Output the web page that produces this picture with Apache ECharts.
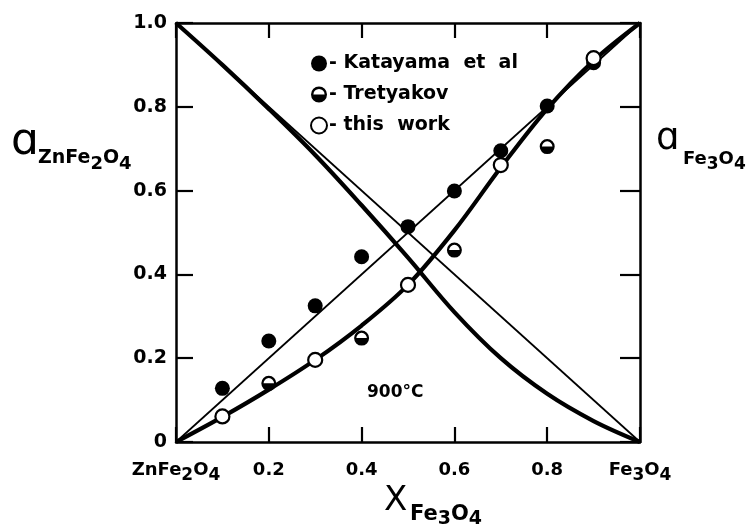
<!DOCTYPE html>
<html>
<head>
<meta charset="utf-8">
<script src="https://cdn.jsdelivr.net/npm/echarts@6/dist/echarts.min.js"></script>
<style>
html,body{margin:0;padding:0;background:#fff;}
#c{width:752px;height:530px;}
</style>
</head>
<body>
<div id="c"></div>
<script>
// ---- data ----
const xTickLabels = ['ZnFe₂O₄', '0.2', '0.4', '0.6', '0.8', 'Fe₃O₄'];
const yTickLabels = ['0', '0.2', '0.4', '0.6', '0.8', '1.0'];

const katayamaX = [0.1, 0.2, 0.3, 0.4, 0.5, 0.6, 0.7, 0.8, 0.9];
const katayamaA = [0.128, 0.241, 0.325, 0.442, 0.514, 0.599, 0.695, 0.802, 0.905];

const tretyakovX = [0.2, 0.4, 0.6, 0.8];
const tretyakovA = [0.140, 0.248, 0.458, 0.705];

const thisWorkX = [0.1, 0.3, 0.5, 0.7, 0.9];
const thisWorkA = [0.061, 0.196, 0.375, 0.661, 0.916];

const curveX = [0, 0.1, 0.2, 0.3, 0.4, 0.5, 0.6, 0.7, 0.8, 0.9, 1.0];
const aFe3O4Fit = [0, 0.060, 0.125, 0.196, 0.278, 0.375, 0.505, 0.655, 0.795, 0.910, 1.0];
const aZnFe2O4Fit = [1.0, 0.900, 0.795, 0.685, 0.565, 0.440, 0.310, 0.200, 0.115, 0.050, 0];

const idealX = [0, 1];
const idealFe3O4 = [0, 1];
const idealZnFe2O4 = [1, 0];

const seriesNames = ['Katayama et al', 'Tretyakov', 'this work'];
const tempLabel = '900°C';
const leftTitle = ['ɑ', 'ZnFe₂O₄'];
const rightTitle = ['ɑ', 'Fe₃O₄'];
const xTitle = ['X', 'Fe₃O₄'];

// ---- helpers ----
const zip = (xs, ys) => xs.map((x, i) => [x, ys[i]]);
const FONT = 'DejaVu Sans';
const SUBS = '₀₁₂₃₄₅₆₇₈₉';
// turn "ZnFe₂O₄" into rich-text tokens with lowered digits
function richChem(str, n, s) {
  let out = '';
  let buf = '';
  let mode = null;
  for (const ch of str) {
    const k = SUBS.indexOf(ch);
    const m = k >= 0 ? s : n;
    const c = k >= 0 ? String(k) : ch;
    if (mode !== m && buf) { out += '{' + mode + '|' + buf + '}'; buf = ''; }
    mode = m; buf += c;
  }
  if (buf) out += '{' + mode + '|' + buf + '}';
  return out;
}
const halfSymbol = 'path://M0,10A10,10 0 1,1 20,10A10,10 0 1,1 0,10ZM3,10L17,10A7,7 0 0,0 3,10Z';

const chart = echarts.init(document.getElementById('c'), null, {renderer: 'canvas'});

const axisLine = {show: true, onZero: false, lineStyle: {color: '#000', width: 2.5}};
const tickStyle = {color: '#000', width: 2.2};

const lineSeries = (data, width) => ({
  type: 'line', data: data, symbol: 'none', showSymbol: false, smooth: 0.35,
  lineStyle: {color: '#000', width: width}, silent: true, z: 2,
  xAxisIndex: 0, yAxisIndex: 0
});

const labRich = {
  n: {fontFamily: FONT, fontWeight: 'bold', fontSize: 18, lineHeight: 22, color: '#000'},
  s: {fontFamily: FONT, fontWeight: 'bold', fontSize: 17, lineHeight: 22, padding: [11, 0, 0, 0], color: '#000'}
};

const option = {
  animation: false,
  backgroundColor: '#fff',
  grid: {left: 176, right: 112, top: 23, bottom: 88, containLabel: false},
  xAxis: [
    {
      type: 'value', min: 0, max: 1, interval: 0.2, position: 'bottom',
      axisLine: axisLine,
      axisTick: {show: true, inside: true, length: 15, lineStyle: tickStyle},
      splitLine: {show: false},
      axisLabel: {
        show: true, margin: 17, color: '#000', fontFamily: FONT, fontWeight: 'bold', fontSize: 18,
        showMinLabel: true, showMaxLabel: true, hideOverlap: false,
        formatter: v => richChem(xTickLabels[Math.round(v / 0.2)], 'n', 's'),
        rich: labRich
      }
    },
    {
      type: 'value', min: 0, max: 1, interval: 0.2, position: 'top',
      axisLine: axisLine,
      axisTick: {show: true, inside: true, length: 15, lineStyle: tickStyle},
      splitLine: {show: false}, axisLabel: {show: false}
    }
  ],
  yAxis: [
    {
      type: 'value', min: 0, max: 1, interval: 0.2, position: 'left',
      axisLine: axisLine,
      axisTick: {show: true, inside: true, length: 17, lineStyle: tickStyle},
      splitLine: {show: false},
      axisLabel: {
        show: true, margin: 9, color: '#000', fontFamily: FONT, fontWeight: 'bold', fontSize: 19,
        showMinLabel: true, showMaxLabel: true,
        formatter: v => yTickLabels[Math.round(v / 0.2)]
      }
    },
    {
      type: 'value', min: 0, max: 1, interval: 0.2, position: 'right',
      axisLine: axisLine,
      axisTick: {show: true, inside: true, length: 20, lineStyle: tickStyle},
      splitLine: {show: false}, axisLabel: {show: false}
    }
  ],
  legend: {
    data: seriesNames,
    orient: 'vertical', left: 310, top: 54, padding: 0,
    itemWidth: 16, itemHeight: 16, itemGap: 12,
    formatter: name => '- ' + name.replace(/ /g, '  '),
    textStyle: {color: '#000', fontFamily: FONT, fontWeight: 'bold', fontSize: 19, padding: [0, 0, 0, -3]},
    selectedMode: false
  },
  series: [
    lineSeries(zip(idealX, idealFe3O4), 1.7),
    lineSeries(zip(idealX, idealZnFe2O4), 1.7),
    lineSeries(zip(curveX, aFe3O4Fit), 4.2),
    lineSeries(zip(curveX, aZnFe2O4Fit), 4.2),
    {
      name: seriesNames[0], type: 'scatter', data: zip(katayamaX, katayamaA),
      symbol: 'circle', symbolSize: 15, z: 5,
      itemStyle: {color: '#000', opacity: 1}
    },
    {
      name: seriesNames[1], type: 'scatter', data: zip(tretyakovX, tretyakovA),
      symbol: halfSymbol, symbolSize: 15, z: 5,
      itemStyle: {color: '#000', opacity: 1}
    },
    {
      name: seriesNames[2], type: 'scatter', data: zip(thisWorkX, thisWorkA),
      symbol: 'circle', symbolSize: 14, z: 6,
      itemStyle: {color: '#fff', borderColor: '#000', borderWidth: 2.2, opacity: 1}
    }
  ],
  graphic: [
    {type: 'text', left: 11, top: 121, style: {text: leftTitle[0], font: 'normal 44px "DejaVu Sans"', fill: '#000'}},
    {type: 'text', left: 38, top: 144, style: {
      text: richChem(leftTitle[1], 'n', 's'),
      rich: {
        n: {font: 'bold 19px "DejaVu Sans"', lineHeight: 22, fill: '#000'},
        s: {font: 'bold 18px "DejaVu Sans"', lineHeight: 22, padding: [11, 0, 0, 0], fill: '#000'}
      }
    }},
    {type: 'text', left: 656, top: 121, style: {text: rightTitle[0], font: 'normal 37px "DejaVu Sans"', fill: '#000'}},
    {type: 'text', left: 683, top: 146, style: {
      text: richChem(rightTitle[1], 'n', 's'),
      rich: {
        n: {font: 'bold 18px "DejaVu Sans"', lineHeight: 22, fill: '#000'},
        s: {font: 'bold 17px "DejaVu Sans"', lineHeight: 22, padding: [10, 0, 0, 0], fill: '#000'}
      }
    }},
    {type: 'text', left: 384, top: 484, style: {text: xTitle[0], font: 'normal 34px "DejaVu Sans"', fill: '#000'}},
    {type: 'text', left: 410, top: 500, style: {
      text: richChem(xTitle[1], 'n', 's'),
      rich: {
        n: {font: 'bold 21px "DejaVu Sans"', lineHeight: 24, fill: '#000'},
        s: {font: 'bold 19px "DejaVu Sans"', lineHeight: 24, padding: [10, 0, 0, 0], fill: '#000'}
      }
    }},
    {type: 'text', left: 367, top: 384, style: {text: tempLabel, font: 'bold 17px "DejaVu Sans"', fill: '#000'}}
  ]
};
chart.setOption(option);
</script>
</body>
</html>
